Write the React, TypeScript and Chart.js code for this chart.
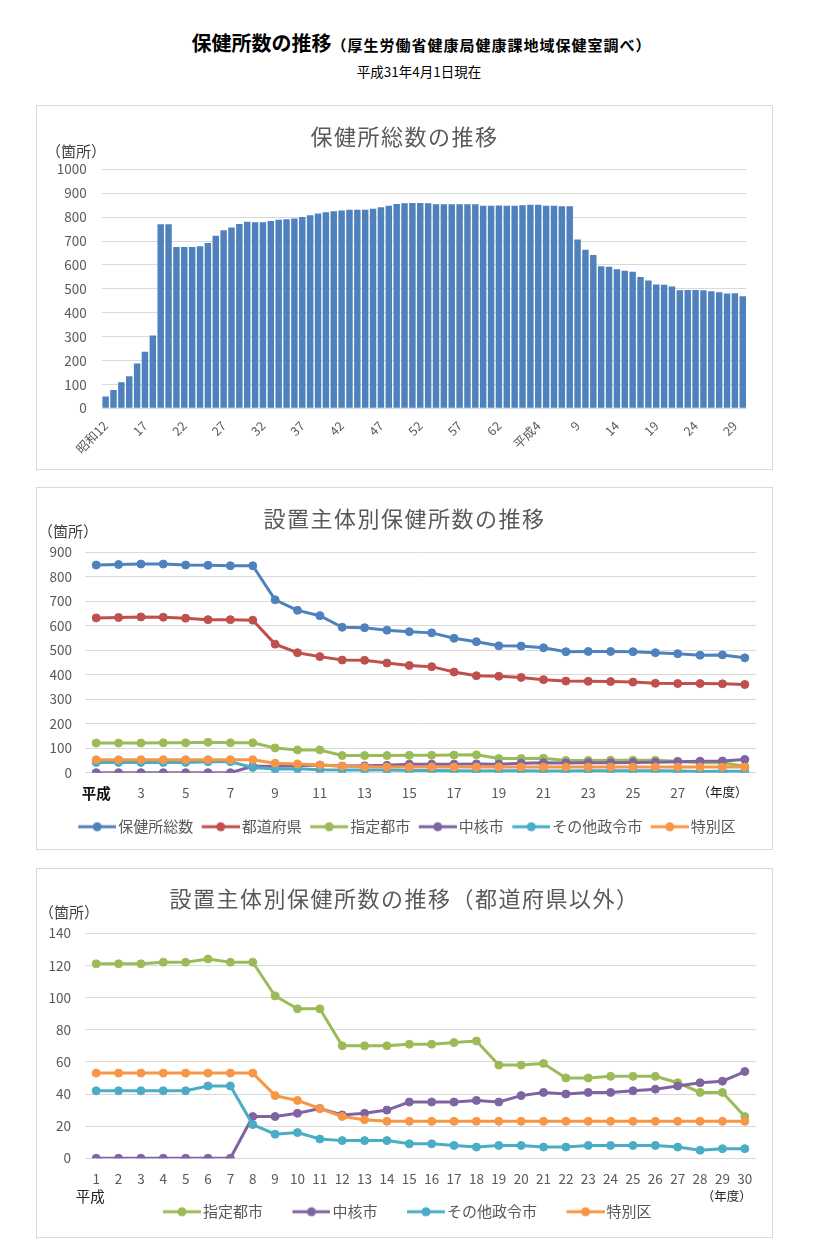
import React, { useEffect, useRef } from "react";
import { Chart, registerables } from "chart.js";

Chart.register(...registerables);

const FONT = '"Noto Sans CJK JP", "Noto Sans", sans-serif';

// ---------- Data ----------
const barCategories = [
  "昭和12", "昭和13", "昭和14", "昭和15", "昭和16", "昭和17", "昭和18", "昭和19", "昭和20", "昭和21",
  "昭和22", "昭和23", "昭和24", "昭和25", "昭和26", "昭和27", "昭和28", "昭和29", "昭和30", "昭和31",
  "昭和32", "昭和33", "昭和34", "昭和35", "昭和36", "昭和37", "昭和38", "昭和39", "昭和40", "昭和41",
  "昭和42", "昭和43", "昭和44", "昭和45", "昭和46", "昭和47", "昭和48", "昭和49", "昭和50", "昭和51",
  "昭和52", "昭和53", "昭和54", "昭和55", "昭和56", "昭和57", "昭和58", "昭和59", "昭和60", "昭和61",
  "昭和62", "昭和63",
  "平成1", "平成2", "平成3", "平成4", "平成5", "平成6", "平成7", "平成8", "平成9", "平成10",
  "平成11", "平成12", "平成13", "平成14", "平成15", "平成16", "平成17", "平成18", "平成19", "平成20",
  "平成21", "平成22", "平成23", "平成24", "平成25", "平成26", "平成27", "平成28", "平成29", "平成30",
];

const barTotals = [
  49, 77, 109, 134, 187, 237, 305, 770, 770, 675,
  675, 675, 678, 692, 722, 745, 757, 771, 781, 778,
  778, 784, 789, 791, 794, 800, 808, 815, 820, 824,
  828, 831, 831, 831, 835, 841, 847, 855, 858, 859,
  859, 858, 854, 854, 854, 854, 854, 854, 848, 848,
  849, 848,
  848, 850, 852, 852, 848, 847, 845, 845, 706, 663,
  641, 594, 592, 582, 576, 571, 549, 535, 518, 517,
  510, 494, 495, 495, 494, 490, 486, 480, 481, 469,
];

const heiseiYears = [
  "1", "2", "3", "4", "5", "6", "7", "8", "9", "10",
  "11", "12", "13", "14", "15", "16", "17", "18", "19", "20",
  "21", "22", "23", "24", "25", "26", "27", "28", "29", "30",
];

const totalSeries = [848, 850, 852, 852, 848, 847, 845, 845, 706, 663, 641, 594, 592, 582, 576, 571, 549, 535, 518, 517, 510, 494, 495, 495, 494, 490, 486, 480, 481, 469];
const prefSeries = [632, 634, 636, 635, 631, 625, 625, 623, 525, 490, 474, 460, 459, 448, 438, 433, 411, 396, 394, 389, 380, 374, 373, 372, 370, 365, 364, 364, 363, 360];
const designatedSeries = [121, 121, 121, 122, 122, 124, 122, 122, 101, 93, 93, 70, 70, 70, 71, 71, 72, 73, 58, 58, 59, 50, 50, 51, 51, 51, 47, 41, 41, 26];
const coreCitySeries = [0, 0, 0, 0, 0, 0, 0, 26, 26, 28, 31, 27, 28, 30, 35, 35, 35, 36, 35, 39, 41, 40, 41, 41, 42, 43, 45, 47, 48, 54];
const otherCitySeries = [42, 42, 42, 42, 42, 45, 45, 21, 15, 16, 12, 11, 11, 11, 9, 9, 8, 7, 8, 8, 7, 7, 8, 8, 8, 8, 7, 5, 6, 6];
const wardSeries = [53, 53, 53, 53, 53, 53, 53, 53, 39, 36, 31, 26, 24, 23, 23, 23, 23, 23, 23, 23, 23, 23, 23, 23, 23, 23, 23, 23, 23, 23];

const seriesNames = ["保健所総数", "都道府県", "指定都市", "中核市", "その他政令市", "特別区"];
const seriesColors = ["#4F81BD", "#C0504D", "#9BBB59", "#8064A2", "#4BACC6", "#F79646"];

const GRID = "#d9d9d9";
const TICK = "#595959";

// ---------- helpers ----------
// legend marker: a 38px line with a dot, drawn in the right part of the legend box
function legendMarker(color: string, boxW: number) {
  const w = boxW + 11;
  const c = document.createElement("canvas");
  c.width = w;
  c.height = 12;
  const g = c.getContext("2d")!;
  g.strokeStyle = color;
  g.lineWidth = 3;
  g.beginPath();
  g.moveTo(w - 38, 6);
  g.lineTo(w, 6);
  g.stroke();
  g.fillStyle = color;
  g.beginPath();
  g.arc(w - 19, 6, 4.5, 0, Math.PI * 2);
  g.fill();
  return c;
}

function lineDataset(label: string, data: number[], color: string, order: number) {
  return {
    label,
    data,
    borderColor: color,
    backgroundColor: color,
    pointBackgroundColor: color,
    pointBorderColor: color,
    borderWidth: 3,
    pointRadius: 4,
    pointBorderWidth: 1,
    tension: 0,
    order,
  };
}

function legendOptions(boxW: number) {
  return {
    display: true,
    position: "bottom" as const,
    labels: {
      usePointStyle: true,
      pointStyleWidth: boxW,
      padding: 8,
      color: TICK,
      font: { family: FONT, size: 15 },
      sort: (a: any, b: any) => a.datasetIndex - b.datasetIndex,
      generateLabels: (chart: any) => {
        const items = (Chart.defaults.plugins.legend.labels as any).generateLabels(chart);
        return items.map((it: any) => {
          const ds = chart.data.datasets[it.datasetIndex];
          return { ...it, pointStyle: legendMarker(ds.borderColor, boxW), lineWidth: 0 };
        });
      },
    },
  };
}

function shiftLegend(dx: number) {
  return {
    id: "shiftLegend",
    afterLayout(chart: any) {
      if (chart.legend) {
        chart.legend.left += dx;
        chart.legend.right += dx;
      }
    },
  };
}

// ---------- chart configs ----------
function barConfig(): any {
  return {
    type: "bar",
    data: {
      labels: barCategories,
      datasets: [
        {
          data: barTotals,
          backgroundColor: "#4F81BD",
          barPercentage: 0.82,
          categoryPercentage: 1,
        },
      ],
    },
    options: {
      animation: false,
      responsive: false,
      layout: { padding: { left: 0, right: 25.3, top: 63.3, bottom: 0 } },
      plugins: { legend: { display: false }, tooltip: { enabled: false } },
      scales: {
        y: {
          min: 0,
          max: 1000,
          ticks: {
            stepSize: 100,
            color: TICK,
            font: { family: FONT, size: 13.5 },
            padding: 15,
            callback: (v: any) => String(v),
          },
          grid: { color: GRID, drawTicks: false, lineWidth: 1 },
          border: { display: false },
          afterFit: (s: any) => {
            s.width = 64.7;
          },
        },
        x: {
          grid: { display: false },
          border: { display: false },
          ticks: {
            autoSkip: false,
            minRotation: 45,
            maxRotation: 45,
            color: TICK,
            padding: 2,
            font: { family: FONT, size: 12.5 },
            callback: (_v: any, i: number) => {
              if (i % 5 !== 0) return "";
              const lab = barCategories[i];
              const era = lab.slice(0, 2);
              if (i === 0 || barCategories[i - 5].slice(0, 2) !== era) return lab;
              return lab.slice(2);
            },
          },
          afterFit: (s: any) => {
            s.height = 60.7;
          },
        },
      },
    },
  };
}

function allConfig(): any {
  const datasets = [totalSeries, prefSeries, designatedSeries, coreCitySeries, otherCitySeries, wardSeries].map(
    (d, i) => lineDataset(seriesNames[i], d, seriesColors[i], 10 - i)
  );
  return {
    type: "line",
    data: { labels: heiseiYears, datasets },
    plugins: [shiftLegend(10.25)],
    options: {
      animation: false,
      responsive: false,
      layout: { padding: { left: 0, right: 16, top: 64.3, bottom: 4.8 } },
      plugins: { legend: legendOptions(33), tooltip: { enabled: false } },
      scales: {
        y: {
          min: 0,
          max: 900,
          ticks: { stepSize: 100, color: TICK, font: { family: FONT, size: 13.5 }, padding: 13 },
          grid: { color: GRID, drawTicks: false },
          border: { display: false },
          afterFit: (s: any) => {
            s.width = 48;
          },
        },
        x: {
          offset: true,
          grid: { display: false, drawTicks: false },
          border: { display: false },
          ticks: {
            autoSkip: false,
            maxRotation: 0,
            minRotation: 0,
            padding: 12,
            color: (c: any) => (c.index === 0 || c.index === 28 ? "#111" : TICK),
            font: (c: any) =>
              c.index === 0
                ? { family: FONT, size: 14.5, weight: "bold" }
                : c.index === 28
                ? { family: FONT, size: 12.5 }
                : { family: FONT, size: 13.5 },
            callback: (_v: any, i: number) => {
              if (i === 0) return "平成";
              if (i === 28) return "（年度）";
              if (i % 2 === 0) return heiseiYears[i];
              return "";
            },
          },
          afterFit: (s: any) => {
            s.height = 38.5;
          },
        },
      },
    },
  };
}

const secondRowLabels = {
  id: "secondRowLabels",
  afterDraw(chart: any) {
    const x = chart.scales.x;
    const ctx = chart.ctx;
    const y = chart.chartArea.bottom + 38.4;
    ctx.save();
    ctx.fillStyle = "#222";
    ctx.textAlign = "center";
    ctx.textBaseline = "middle";
    ctx.font = `14.5px ${FONT}`;
    ctx.fillText("平成", x.getPixelForValue(0) - 6, y);
    ctx.font = `12.5px ${FONT}`;
    ctx.fillText("（年度）", x.getPixelForValue(29) - 18, y);
    ctx.restore();
  },
};

function otherConfig(): any {
  const datasets = [designatedSeries, coreCitySeries, otherCitySeries, wardSeries].map((d, i) =>
    lineDataset(seriesNames[i + 2], d, seriesColors[i + 2], 10 - i)
  );
  return {
    type: "line",
    data: { labels: heiseiYears, datasets },
    plugins: [secondRowLabels],
    options: {
      animation: false,
      responsive: false,
      layout: { padding: { left: 0, right: 16, top: 64.3, bottom: 7.8 } },
      plugins: { legend: legendOptions(54), tooltip: { enabled: false } },
      scales: {
        y: {
          min: 0,
          max: 140,
          ticks: { stepSize: 20, color: TICK, font: { family: FONT, size: 13.5 }, padding: 14 },
          grid: { color: GRID, drawTicks: false },
          border: { display: false },
          afterFit: (s: any) => {
            s.width = 48;
          },
        },
        x: {
          offset: true,
          grid: { display: false, drawTicks: false },
          border: { display: false },
          ticks: {
            autoSkip: false,
            maxRotation: 0,
            minRotation: 0,
            padding: 12.2,
            color: TICK,
            font: { family: FONT, size: 13.5, lineHeight: 1.3 },
          },
          afterFit: (s: any) => {
            s.height = 37.9;
          },
        },
      },
    },
  };
}

// ---------- components ----------
function ChartCanvas({ make, width, height }: { make: () => any; width: number; height: number }) {
  const ref = useRef<HTMLCanvasElement>(null);
  useEffect(() => {
    const chart = new Chart(ref.current!, make());
    return () => chart.destroy();
  }, []);
  return (
    <canvas
      ref={ref}
      width={width}
      height={height}
      style={{ position: "absolute", left: 0, top: 0, width, height }}
    />
  );
}

function Box(props: {
  top: number;
  height: number;
  title: string;
  titleY: number;
  unitX: number;
  unitY: number;
  make: () => any;
}) {
  const inner = props.height - 2;
  return (
    <div
      style={{
        position: "absolute",
        left: 36,
        top: props.top,
        width: 737,
        height: props.height,
        border: "1px solid #d9d9d9",
        boxSizing: "border-box",
        background: "#fff",
      }}
    >
      <ChartCanvas make={props.make} width={735} height={inner} />
      <div
        style={{
          position: "absolute",
          left: 0,
          width: 735,
          top: props.titleY - 13,
          height: 26,
          lineHeight: "26px",
          textAlign: "center",
          fontFamily: FONT,
          fontSize: 22,
          letterSpacing: "1.5px",
          color: "#595959",
          whiteSpace: "nowrap",
        }}
      >
        {props.title}
      </div>
      <div
        style={{
          position: "absolute",
          left: props.unitX,
          top: props.unitY - 10,
          height: 20,
          lineHeight: "20px",
          fontFamily: FONT,
          fontSize: 15,
          color: "#404040",
          whiteSpace: "nowrap",
        }}
      >
        （箇所）
      </div>
    </div>
  );
}

export default function App() {
  return (
    <div
      style={{
        position: "absolute",
        left: 0,
        top: 0,
        width: 828,
        height: 1250,
        background: "#fff",
        fontFamily: FONT,
      }}
    >
      <div
        style={{
          position: "absolute",
          left: 0,
          width: 843,
          top: 29,
          height: 28,
          lineHeight: "28px",
          textAlign: "center",
          fontWeight: "bold",
          color: "#000",
          whiteSpace: "nowrap",
        }}
      >
        <span style={{ fontSize: 20 }}>保健所数の推移</span>
        <span style={{ fontSize: 15, letterSpacing: "1px" }}>（厚生労働省健康局健康課地域保健室調べ）</span>
      </div>
      <div
        style={{
          position: "absolute",
          left: 0,
          width: 838,
          top: 62,
          height: 18,
          lineHeight: "18px",
          textAlign: "center",
          fontSize: 13.5,
          color: "#000",
          whiteSpace: "nowrap",
        }}
      >
        平成31年4月1日現在
      </div>
      <Box top={105} height={365} title="保健所総数の推移" titleY={29} unitX={9} unitY={45} make={barConfig} />
      <Box top={487} height={363} title="設置主体別保健所数の推移" titleY={29} unitX={1} unitY={42.7} make={allConfig} />
      <Box
        top={868}
        height={370}
        title="設置主体別保健所数の推移（都道府県以外）"
        titleY={27.7}
        unitX={2}
        unitY={42.7}
        make={otherConfig}
      />
    </div>
  );
}
